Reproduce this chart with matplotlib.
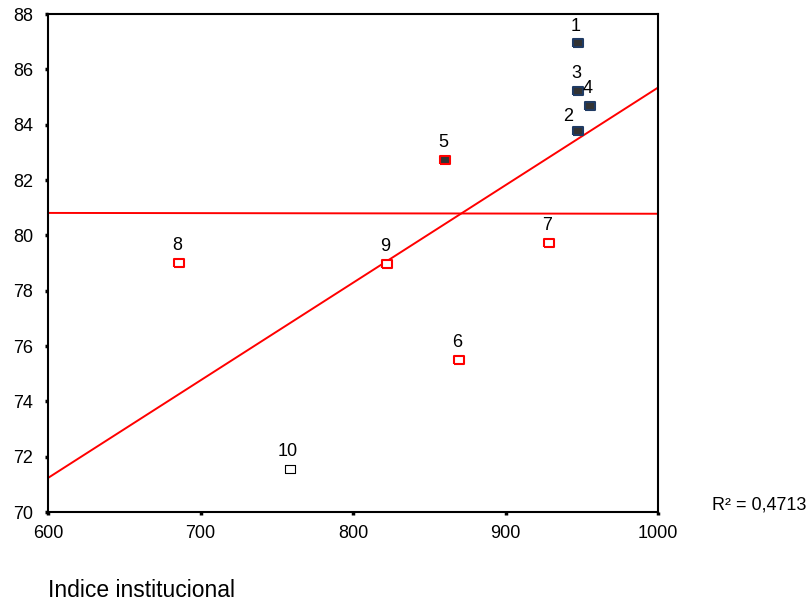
import numpy as np
import matplotlib
matplotlib.use('Agg')
import matplotlib.pyplot as plt

plt.rcParams['font.family'] = ['Liberation Sans', 'DejaVu Sans']

# scatter points (Indice institucional vs y)
labels = ['1', '2', '3', '4', '5', '6', '7', '8', '9', '10']
x_vals = [947.5, 947.5, 947.5, 955.4, 860.3, 869.5, 928.5, 685.9, 822.3, 758.7]
y_vals = [86.95, 83.78, 85.22, 84.68, 82.73, 75.51, 79.73, 79.01, 78.97, 71.57]
groups = ['a', 'a', 'a', 'a', 'b', 'c', 'c', 'c', 'c', 'd']

# fit line and mean line end points
fit_x = [600, 1000]
fit_y = [71.23, 85.34]
mean_x = [600, 1000]
mean_y = [80.81, 80.78]
r2_text = 'R² = 0,4713'

x_ticks = [600, 700, 800, 900, 1000]
y_ticks = [70, 72, 74, 76, 78, 80, 82, 84, 86, 88]

styles = {
    'a': dict(mfc='#333333', mec='#1f3a63', mew=1.5),
    'b': dict(mfc='#333333', mec='#ff0000', mew=1.5),
    'c': dict(mfc='white', mec='#ff0000', mew=1.5),
    'd': dict(mfc='white', mec='black', mew=0.8),
}
rect = [(-5, -3.5), (5, -3.5), (5, 3.5), (-5, 3.5), (-5, -3.5)]

fig = plt.figure(figsize=(8.11, 6.03), dpi=100)
ax = fig.add_axes([48/811, 1-512/603, 610/811, 498/603])

ax.plot(mean_x, mean_y, color='#ff0000', lw=1.4)
ax.plot(fit_x, fit_y, color='#ff0000', lw=1.4)

for lab, x, y, g in zip(labels, x_vals, y_vals, groups):
    ax.plot(x, y, ls='none', marker=rect, ms=7.5, **styles[g], zorder=3)
    off = (-10, 14) if lab == '2' else (-2, 17)
    ax.annotate(lab, (x, y), xytext=off, textcoords='offset pixels',
                ha='center', va='center', fontsize=13)

ax.set_xlim(600, 1000)
ax.set_ylim(70, 88)
ax.set_xticks(x_ticks)
ax.set_yticks(y_ticks)
ax.tick_params(direction='out', length=2.5, width=2.5, labelsize=13)
ax.tick_params(axis='y', pad=8)
ax.tick_params(axis='x', pad=7)
for s in ax.spines.values():
    s.set_linewidth(1.5)

fig.text(48/811, 1-597/603, 'Indice institucional', fontsize=16.5, ha='left', va='baseline')
fig.text(712/811, 1-510/603, r2_text, fontsize=13, ha='left', va='baseline')

fig.savefig('out.png', dpi=100)
